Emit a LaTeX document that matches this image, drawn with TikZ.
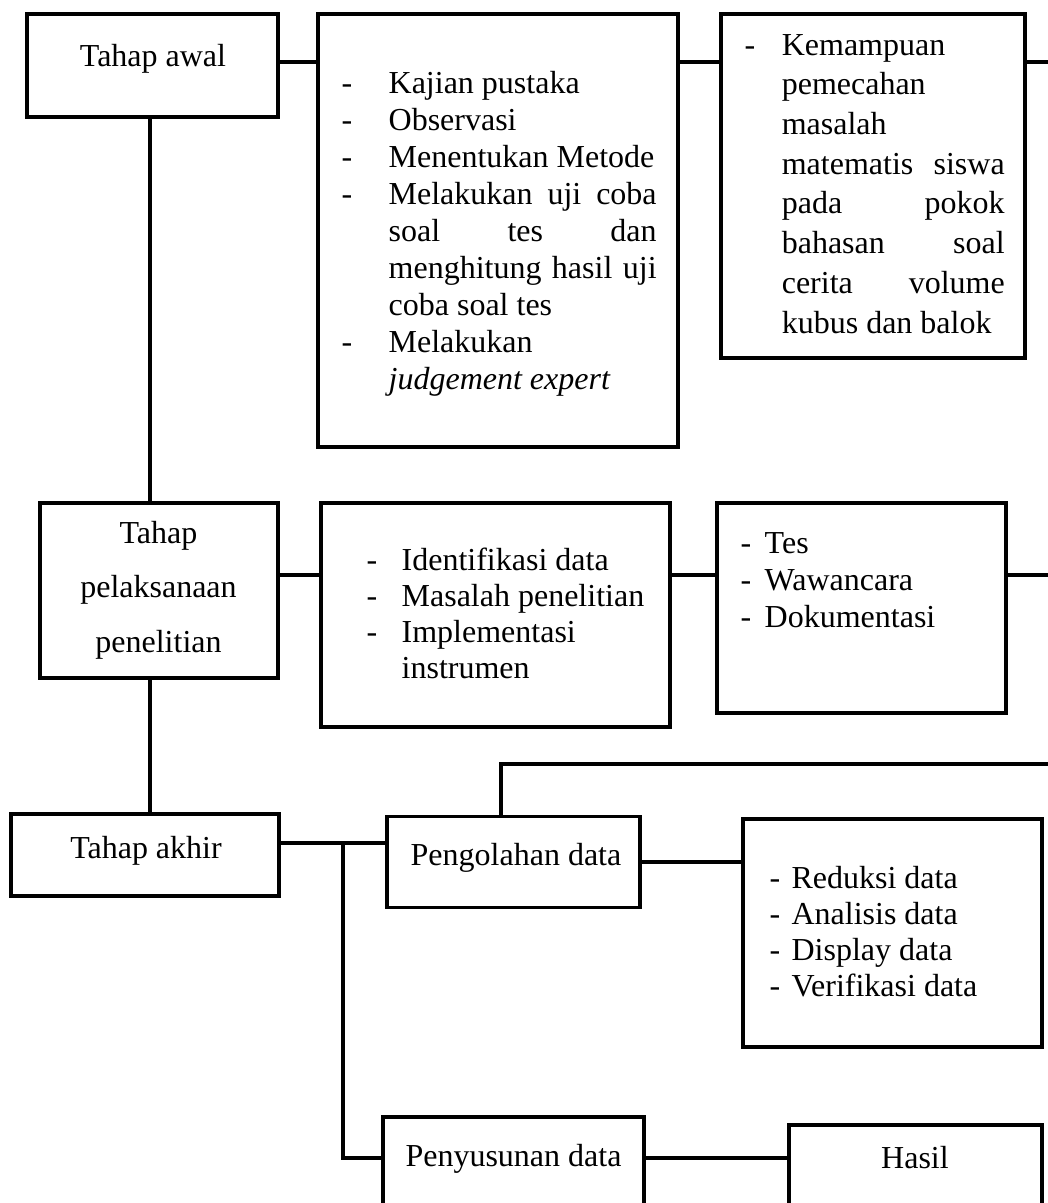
\documentclass[tikz,border=0pt]{standalone}
\usepackage{fontspec}
\setmainfont{Liberation Serif}

\newcommand{\rata}[2]{\makebox[#1][s]{#2}}

\begin{document}
\begin{tikzpicture}
		[
			x=0.375pt, y=-0.375pt,
			line width=1.3pt,
			box/.style 2 args={draw, rectangle, inner sep=0pt, minimum width=#1*0.375pt, minimum height=#2*0.375pt},
			teks/.style={inner sep=0pt, font=\fontsize{12}{13.9}\selectfont}
		]
		\useasboundingbox (0,0) rectangle (1048,1203);
		\clip (0,0) rectangle (1048,1203);

		% boxes
		\node[box={251}{103}]	(awal)			at ( 152.5,   65.5 ) {};
		\node[box={360}{433}]	(kajian)		at ( 498.0,  230.5 ) {};
		\node[box={304}{344}]	(fokus)			at ( 873.0,  186.0 ) {};
		\node[box={238}{175}]	(laksana)		at ( 159.0,  590.5 ) {};
		\node[box={349}{224}]	(identifikasi)	at ( 495.5,  615.0 ) {};
		\node[box={289}{210}]	(teknik)		at ( 861.5,  608.0 ) {};
		\node[box={268}{82}]	(akhir)			at ( 145.0,  855.0 ) {};
		\node[box={253}{91}]	(olah)			at ( 513.5,  862.0 ) {};
		\node[box={299}{228}]	(reduksi)		at ( 892.5,  933.0 ) {};
		\node[box={261}{123}]	(susun)			at ( 513.5, 1178.5 ) {};
		\node[box={253}{115}]	(hasil)			at ( 915.5, 1182.5 ) {};

		% texts
		\node[teks, anchor=base] (tAwal) at ( 153, 67 ) {Tahap awal};
		\node[teks, anchor=base west] (tKajian) at ( 340, 93 )
		{\begin{tabular}[t]{@{}p{17.6pt}@{}l@{}}
			-&Kajian pustaka\\
			-&Observasi\\
			-&Menentukan Metode\\
			-&\rata{100.5pt}{Melakukan uji coba}\\
			&\rata{100.5pt}{soal tes dan}\\
			&\rata{100.5pt}{menghitung hasil uji}\\
			&coba soal tes\\
			-&Melakukan\\
			&\textit{judgement expert}
		\end{tabular}};
		\node[teks, font=\fontsize{12}{14.9}\selectfont, anchor=base west] (tFokus) at ( 743, 55 )
		{\begin{tabular}[t]{@{}p{13.9pt}@{}l@{}}
			-&Kemampuan\\
			&pemecahan\\
			&masalah\\
			&\rata{83.6pt}{matematis siswa}\\
			&\rata{83.6pt}{pada pokok}\\
			&\rata{83.6pt}{bahasan soal}\\
			&\rata{83.6pt}{cerita volume}\\
			&kubus dan balok
		\end{tabular}};
		\node[teks, font=\fontsize{12}{20.6}\selectfont, anchor=base] (tLaksana) at ( 158.5, 543 )
		{\begin{tabular}[t]{@{}c@{}}
			Tahap\\
			pelaksanaan\\
			penelitian
		\end{tabular}};
		\node[teks, font=\fontsize{12}{13.6}\selectfont, anchor=base west] (tIdentifikasi) at ( 365, 570 )
		{\begin{tabular}[t]{@{}p{13.1pt}@{}l@{}}
			-&Identifikasi data\\
			-&Masalah penelitian\\
			-&Implementasi\\
			&instrumen
		\end{tabular}};
		\node[teks, anchor=base west] (tTeknik) at ( 739, 553 )
		{\begin{tabular}[t]{@{}p{9pt}@{}l@{}}
			-&Tes\\
			-&Wawancara\\
			-&Dokumentasi
		\end{tabular}};
		\node[teks, font=\fontsize{12}{13.6}\selectfont, anchor=base west] (tReduksi) at ( 768, 888 )
		{\begin{tabular}[t]{@{}p{8.2pt}@{}l@{}}
			-&Reduksi data\\
			-&Analisis data\\
			-&Display data\\
			-&Verifikasi data
		\end{tabular}};
		\node[teks, anchor=base] (tAkhir) at ( 146, 858 ) {Tahap akhir};
		\node[teks, anchor=base] (tOlah) at ( 516, 865 ) {Pengolahan data};
		\node[teks, anchor=base] (tSusun) at ( 513.5, 1166 ) {Penyusunan data};
		\node[teks, anchor=base] (tHasil) at ( 915, 1168 ) {Hasil};

		% line points
		\coordinate (jalurA) at (    0,   62 );
		\coordinate (jalurB) at (    0,  575 );
		\coordinate (jalurC) at (  343,  843 );
		\coordinate (jalurD) at (    0, 1158 );
		\coordinate (jalurV) at (  150,    0 );
		\coordinate (tikC)   at (  501,    0 );
		\coordinate (tepiA)  at ( 1048,   62 );
		\coordinate (tepiB)  at ( 1048,  575 );
		\coordinate (tepiC)  at ( 1048,  764 );

		% connectors
		\draw (awal.east |- jalurA) -- (kajian.west |- jalurA);
		\draw (kajian.east |- jalurA) -- (fokus.west |- jalurA);
		\draw (fokus.east |- jalurA) -- (tepiA);
		\draw (jalurV |- awal.south) -- (jalurV |- laksana.north);
		\draw (jalurV |- laksana.south) -- (jalurV |- akhir.north);
		\draw (laksana.east |- jalurB) -- (identifikasi.west |- jalurB);
		\draw (identifikasi.east |- jalurB) -- (teknik.west |- jalurB);
		\draw (teknik.east |- jalurB) -- (tepiB);
		\draw (akhir.east |- jalurC) -- (olah.west |- jalurC);
		\draw (jalurC) |- (susun.west |- jalurD);
		\draw (olah.east) -- (olah.east -| reduksi.west);
		\draw (susun.east |- jalurD) -- (hasil.west |- jalurD);
		\draw (tikC |- olah.north) |- (tepiC);

	\end{tikzpicture}
\end{document}
